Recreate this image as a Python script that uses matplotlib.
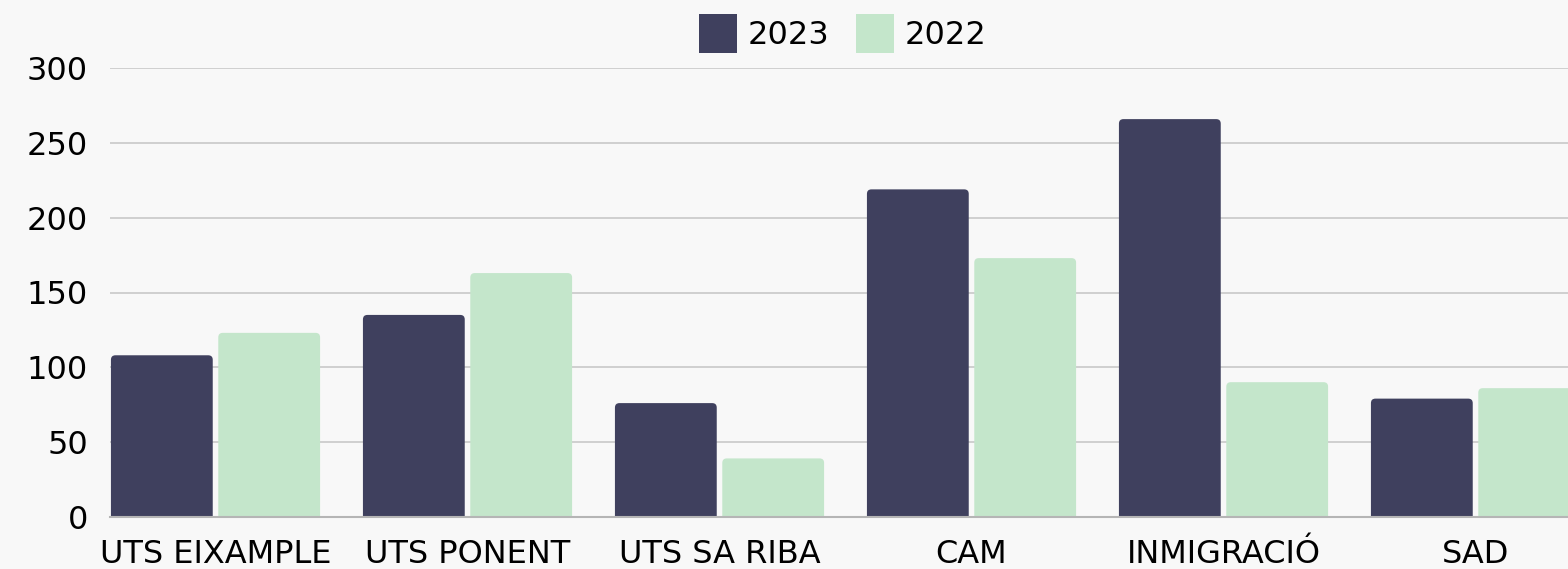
#Importamos las librerías
import numpy as np
import matplotlib
matplotlib.use('Agg')
import matplotlib.pyplot as plt
from matplotlib.patches import FancyBboxPatch

#%% Datos
categorias = ['UTS EIXAMPLE', 'UTS PONENT', 'UTS SA RIBA', 'CAM', 'INMIGRACIÓ', 'SAD']
valores_2023 = [108, 135, 76, 219, 266, 79]
valores_2022 = [123, 163, 39, 173, 90, 86]
ticks_y = [0, 50, 100, 150, 200, 250, 300]

COLOR_2023 = '#3f405e'
COLOR_2022 = '#c4e6cb'
FONDO = '#f8f8f8'

plt.rcParams['font.family'] = ['DejaVu Sans']
TAM = 23

#%% Figura
fig = plt.figure(figsize=(15.68, 5.69), dpi=100, facecolor=FONDO)
ax = fig.add_axes([110/1568, 52.3/569, 1458/1568, 448.4/569])
ax.set_facecolor(FONDO)

x = np.arange(len(categorias))
ancho = 0.404
b1 = ax.bar(x - 0.213, valores_2023, ancho, color=COLOR_2023, label='2023', zorder=3)
b2 = ax.bar(x + 0.213, valores_2022, ancho, color=COLOR_2022, label='2022', zorder=3)

ax.set_xlim(-0.4187, 5.367)
ax.set_ylim(0, 300)

#esquinas redondeadas: cambiamos cada barra por un FancyBboxPatch
px_x = 252.0      #pixeles por unidad en x
px_y = 448.4/300  #pixeles por unidad en y
r = 4.5/px_x
aspecto = px_x/px_y
for barras in (b1, b2):
    for b in barras:
        x0, y0 = b.get_xy()
        w = b.get_width()
        h = b.get_height()
        p = FancyBboxPatch((x0, y0 - 5), w, h + 5,
                           boxstyle='round,pad=0,rounding_size=%f' % r,
                           mutation_aspect=aspecto,
                           fc=b.get_facecolor(), ec='none', zorder=3)
        b.set_visible(False)
        ax.add_patch(p)

#ejes y grilla
ax.set_yticks(ticks_y)
ax.set_yticklabels([str(t) for t in ticks_y])
ax.set_xticks(x)
ax.set_xticklabels(categorias)
ax.tick_params(axis='y', length=0, pad=16, labelsize=TAM, colors='black')
ax.tick_params(axis='x', length=0, pad=16, labelsize=TAM, colors='black')
ax.yaxis.grid(True, color='#c8c8c8', linewidth=1.2, zorder=0)
ax.set_axisbelow(True)
for s in ['top', 'right', 'left']:
    ax.spines[s].set_visible(False)
ax.spines['bottom'].set_color('#b5b5b5')
ax.spines['bottom'].set_linewidth(1.5)
ax.spines['bottom'].set_zorder(4)

#leyenda arriba
leg = ax.legend(handles=[b1, b2], loc='center', bbox_to_anchor=(0.5027, 1.0776),
                ncol=2, frameon=False, fontsize=TAM, handlelength=1.19,
                handleheight=1.455, handletextpad=0.33, columnspacing=0.82,
                borderpad=0, borderaxespad=0)
for h in leg.legend_handles:
    h.set_visible(True)

fig.savefig('out.png', dpi=100, facecolor=FONDO)
